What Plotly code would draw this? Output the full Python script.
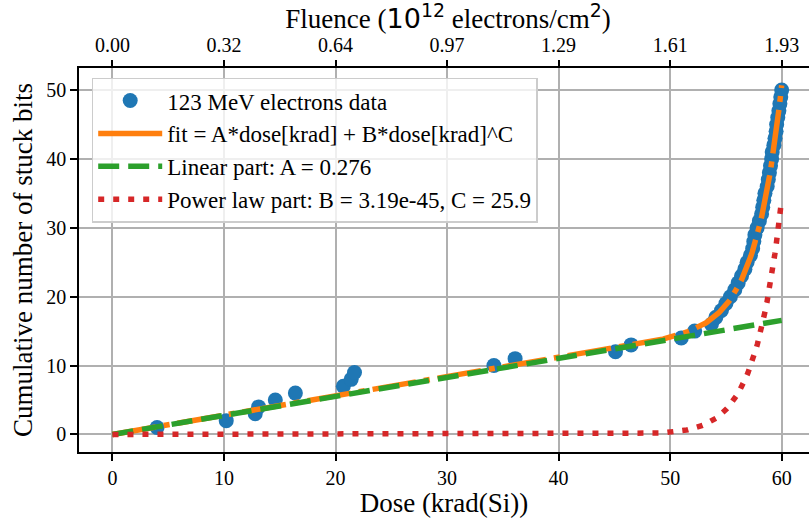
import numpy as np
import plotly.graph_objects as go

# ---- data ----
dose_krad = [4.0, 10.2, 12.8, 13.1, 14.6, 16.4, 20.7, 21.4, 21.7, 34.2,
             36.1, 45.1, 46.5, 51.0, 52.2, 53.7, 54.1, 54.6, 55.0, 55.4,
             55.8, 56.1, 56.4, 56.7, 56.9, 57.2, 57.4, 57.5, 57.6, 57.8,
             58.0, 58.2, 58.3, 58.4, 58.5, 58.7, 58.8, 58.9, 59.0, 59.1,
             59.15, 59.3, 59.4, 59.5, 59.55, 59.65, 59.75, 59.84, 59.92, 60.0]
stuck_bits = list(range(1, 51))

# fit parameters (from legend)
A_lin = 0.276
B_pow = 3.19e-45
C_pow = 25.886

x_ticks = [0, 10, 20, 30, 40, 50, 60]
fluence_labels = ["0.00", "0.32", "0.64", "0.97", "1.29", "1.61", "1.93"]
y_ticks = [0, 10, 20, 30, 40, 50]

# ---- fit curves ----
d = np.linspace(0, max(dose_krad), 500)
lin = A_lin * d
pw = B_pow * d ** C_pow
fit = lin + pw

BLUE, ORANGE, GREEN, RED = "#1f77b4", "#ff7f0e", "#2ca02c", "#d62728"
LW = 5.5
SERIF = "Liberation Serif, Times New Roman, serif"
FIT_NAME = "fit = A*dose[krad] + B*dose[krad]^C"

fig = go.Figure()
fig.add_trace(go.Scatter(x=dose_krad, y=stuck_bits, mode="markers",
                         marker=dict(color=BLUE, size=15, line=dict(width=0)),
                         name="123 MeV electrons data"))
# legend-only entry (solid swatch like the reference legend)
fig.add_trace(go.Scatter(x=[None], y=[None], mode="lines",
                         line=dict(color=ORANGE, width=LW), name=FIT_NAME))
fig.add_trace(go.Scatter(x=d, y=fit, mode="lines",
                         line=dict(color=ORANGE, width=LW, dash="44px,8px,6px,8px"),
                         name=FIT_NAME, showlegend=False))
fig.add_trace(go.Scatter(x=d, y=lin, mode="lines",
                         line=dict(color=GREEN, width=LW, dash="21px,9px"),
                         name="Linear part: A = 0.276"))
fig.add_trace(go.Scatter(x=d, y=pw, mode="lines",
                         line=dict(color=RED, width=LW, dash="6px,9px"),
                         name="Power law part: B = 3.19e-45, C = 25.9"))
# invisible trace for top axis
fig.add_trace(go.Scatter(x=[0, 60], y=[0, 0], xaxis="x2", mode="markers",
                         marker=dict(opacity=0), showlegend=False, hoverinfo="skip"))

fig.update_layout(
    width=809, height=518,
    margin=dict(l=79, r=0, t=68, b=63),
    paper_bgcolor="white", plot_bgcolor="white",
    font=dict(family=SERIF, color="black", size=20),
    showlegend=True,
    legend=dict(x=0.0174, y=0.975, xanchor="left", yanchor="top",
                bgcolor="rgba(255,255,255,0.8)", bordercolor="#cccccc", borderwidth=1.5,
                font=dict(family=SERIF, size=23, color="black"),
                itemwidth=64, tracegroupgap=0),
    title=dict(text="Fluence (<span style='font-family:DejaVu Sans'>10<sup>12</sup></span>"
                    " electrons/cm<span style='font-family:DejaVu Sans'><sup>2</sup></span>)",
               x=448 / 809, xref="container", xanchor="center",
               y=1 - 19 / 518, yref="container", yanchor="middle",
               font=dict(family=SERIF, size=27, color="black")),
    xaxis=dict(range=[-3.0, 62.45], tickvals=x_ticks, ticks="outside", ticklen=7,
               tickwidth=1.5, tickcolor="black", showline=True, linecolor="black",
               linewidth=1.5, mirror=True, showgrid=True, gridcolor="#b0b0b0",
               gridwidth=1.5, zeroline=False,
               tickfont=dict(size=20),
               title=dict(text="Dose (krad(Si))", font=dict(size=27), standoff=10)),
    xaxis2=dict(range=[-3.0, 62.45], overlaying="x", side="top", anchor="y",
                tickvals=x_ticks, ticktext=fluence_labels, ticks="outside", ticklen=7,
                tickwidth=1.5, tickcolor="black", showline=False, showgrid=False,
                zeroline=False, tickfont=dict(size=20)),
    yaxis=dict(range=[-2.55, 53.2], tickvals=y_ticks, ticks="outside", ticklen=7,
               tickwidth=1.5, tickcolor="black", showline=True, linecolor="black",
               linewidth=1.5, mirror=False, showgrid=True, gridcolor="#b0b0b0",
               gridwidth=1.5, zeroline=False, tickfont=dict(size=20),
               title=dict(text="Cumulative number of stuck bits", font=dict(size=27),
                          standoff=6)),
)

fig.write_html("out.html")
